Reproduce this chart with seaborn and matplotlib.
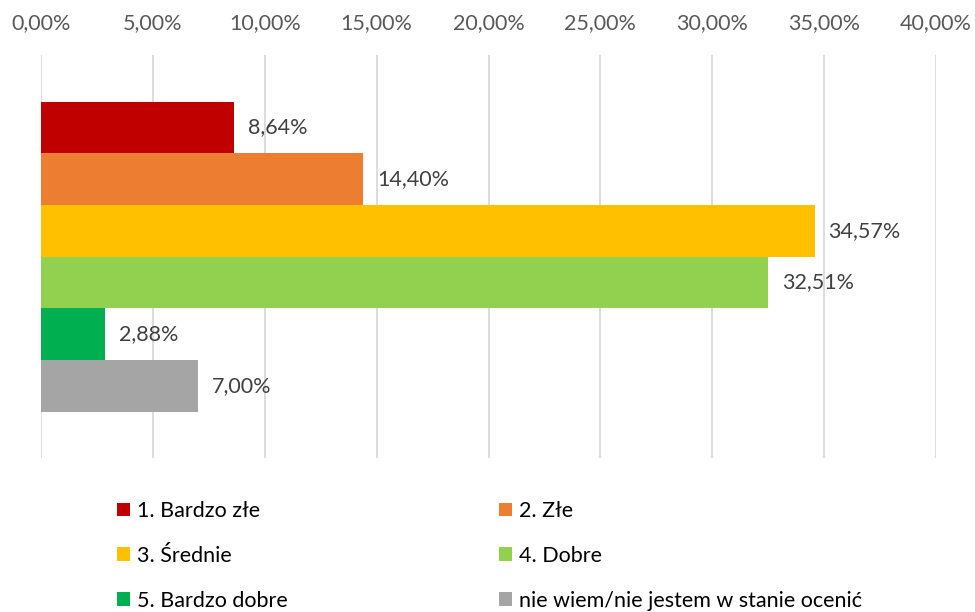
import matplotlib
matplotlib.use("Agg")
import matplotlib.pyplot as plt
import matplotlib.patches as mpatches
import seaborn as sns
import pandas as pd

categories = ["1. Bardzo złe", "2. Złe", "3. Średnie", "4. Dobre", "5. Bardzo dobre",
              "nie wiem/nie jestem w stanie ocenić"]
values = [8.64, 14.40, 34.57, 32.51, 2.88, 7.00]
colors = ["#C00000", "#ED7D31", "#FFC000", "#92D050", "#00B050", "#A5A5A5"]
xticks = [0, 5, 10, 15, 20, 25, 30, 35, 40]

sns.set_theme(style="white")
plt.rcParams["font.family"] = ["Lato", "DejaVu Sans"]

df = pd.DataFrame({"cat": categories, "val": values})

fig = plt.figure(figsize=(9.75, 6.12), dpi=100)
ax = fig.add_axes([41/975, 1-458/612, (936-41)/975, (458-55)/612])

sns.barplot(data=df, x="val", y="cat", hue="cat", order=categories, hue_order=categories,
            palette=colors, orient="h", width=1.0, dodge=False, legend=False, ax=ax,
            saturation=1.0, linewidth=0)

ax.set_xlim(0, 40)
ax.set_ylim(5.5 + 0.9, -0.5 - 0.9)
ax.set_xticks(xticks)
ax.set_xticklabels([f"{t:.2f}%".replace(".", ",") for t in xticks])
ax.xaxis.tick_top()
ax.tick_params(axis="x", colors="#595959", labelsize=15.5, length=0, pad=16)
ax.set_yticks([])
ax.set_xlabel("")
ax.set_ylabel("")
for s in ax.spines.values():
    s.set_visible(False)
ax.grid(axis="x", color="#D9D9D9", linewidth=1.3)
ax.set_axisbelow(True)

for cont, v in zip(ax.containers, values):
    ax.bar_label(cont, labels=[f"{v:.2f}%".replace(".", ",")], padding=10,
                 color="#404040", fontsize=15.5)

handles = [mpatches.Patch(color=c, label=l, linewidth=0) for c, l in zip(colors, categories)]
kw = dict(frameon=False, fontsize=15.5, handlelength=0.6, handleheight=0.6,
          handletextpad=0.35, labelspacing=1.15, borderaxespad=0, borderpad=0,
          labelcolor="#000000")
leg1 = fig.legend(handles=[handles[0], handles[2], handles[4]], loc="upper left",
                  bbox_to_anchor=(117/975, 1-501/612), **kw)
leg2 = fig.legend(handles=[handles[1], handles[3], handles[5]], loc="upper left",
                  bbox_to_anchor=(499/975, 1-501/612), **kw)

fig.savefig("out.png", dpi=100)
